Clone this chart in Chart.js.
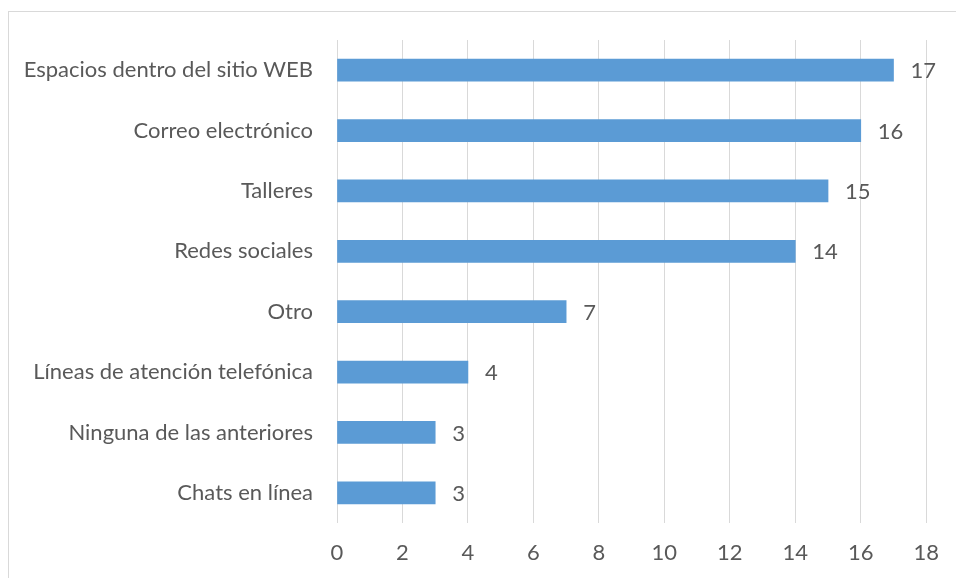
<!DOCTYPE html>
<html>
<head>
<meta charset="utf-8">
<script src="https://cdn.jsdelivr.net/npm/chart.js@4"></script>
<style>
    html, body { margin: 0; padding: 0; background: #fff; }
    #wrap { position: relative; width: 956px; height: 578px; overflow: hidden; }
    #frame { position: absolute; left: 8px; top: 11px; width: 1000px; height: 1000px;
             border-left: 1px solid #d9d9d9; border-top: 1px solid #d9d9d9; }
    #chartCanvas { position: absolute; left: 0; top: 0; }
</style>
</head>
<body>
<div id="wrap">
    <div id="frame"></div>
    <canvas id="chartCanvas" width="956" height="578"></canvas>
</div>
<script>
// canales de comunicacion
const categorias = [
    'Espacios dentro del sitio WEB',
    'Correo electrónico',
    'Talleres',
    'Redes sociales',
    'Otro',
    'Líneas de atención telefónica',
    'Ninguna de las anteriores',
    'Chats en línea'
];
const respuestas = [17, 16, 15, 14, 7, 4, 3, 3];
const ejeMin = 0;
const ejeMax = 18;
const ejePaso = 2;

const fuente = "Lato, 'Open Sans', sans-serif";
const tamFuente = 22;
const colorTexto = '#595959';

// etiqueta de valor a la derecha de cada barra
const etiquetasValor = {
    id: 'etiquetasValor',
    afterDatasetsDraw(chart) {
        const ctx = chart.ctx;
        const meta = chart.getDatasetMeta(0);
        ctx.save();
        ctx.font = tamFuente + 'px ' + fuente;
        ctx.fillStyle = colorTexto;
        ctx.textAlign = 'left';
        ctx.textBaseline = 'middle';
        meta.data.forEach(function(bar, i) {
            ctx.fillText(respuestas[i], bar.x + 17, bar.y + 1);
        });
        ctx.restore();
    }
};

const ctx = document.getElementById('chartCanvas').getContext('2d');
new Chart(ctx, {
    type: 'bar',
    data: {
        labels: categorias,
        datasets: [{
            data: respuestas,
            backgroundColor: '#5b9bd5',
            borderWidth: 0,
            barThickness: 22
        }]
    },
    options: {
        indexAxis: 'y',
        responsive: false,
        animation: false,
        layout: { padding: { top: 40, right: 28, left: 0, bottom: 0 } },
        plugins: {
            legend: { display: false },
            tooltip: { enabled: false }
        },
        scales: {
            x: {
                min: ejeMin,
                max: ejeMax,
                ticks: {
                    stepSize: ejePaso,
                    color: colorTexto,
                    font: { family: fuente, size: tamFuente },
                    padding: 17
                },
                grid: { color: '#d9d9d9', lineWidth: 1, drawTicks: false },
                border: { display: false },
                afterFit(scale) { scale.height = 55; }
            },
            y: {
                ticks: {
                    color: colorTexto,
                    font: { family: fuente, size: tamFuente },
                    padding: 24
                },
                grid: { display: false, drawTicks: false },
                border: { display: false },
                afterFit(scale) { scale.width = 337; }
            }
        }
    },
    plugins: [etiquetasValor]
});
</script>
</body>
</html>
